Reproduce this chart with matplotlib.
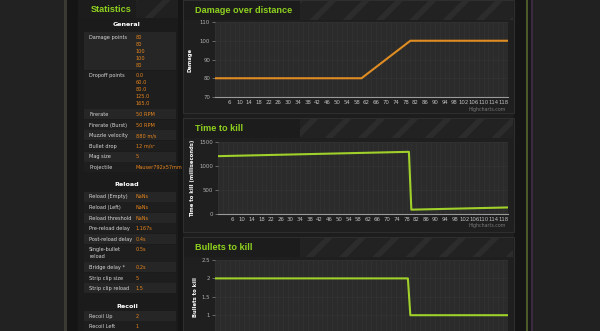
import matplotlib
matplotlib.use('Agg')
import matplotlib.pyplot as plt
from matplotlib.patches import Rectangle

# ---------------- data ----------------
distance_ticks = list(range(6, 119, 4))
damage_x = [0, 60, 80, 120]
damage_y = [80, 80, 100, 100]
ttk_x = [0, 79, 80, 120]
ttk_y = [1200, 1290, 90, 136]
btk_x = [0, 79, 80, 120]
btk_y = [2, 2, 1, 1]

general_labels = ["Damage points", "Dropoff points", "Firerate", "Firerate (Burst)",
                  "Muzzle velocity", "Bullet drop", "Mag size", "Projectile"]
general_values = [["80", "80", "100", "100", "80"],
                  ["0.0", "60.0", "80.0", "125.0", "165.0"],
                  ["50 RPM"], ["50 RPM"], ["880 m/s"], ["12 m/s²"], ["5"],
                  ["Mauser792x57mm"]]
reload_labels = ["Reload (Empty)", "Reload (Left)", "Reload threshold", "Pre-reload delay",
                 "Post-reload delay", "Single-bullet\nreload", "Bridge delay *",
                 "Strip clip size", "Strip clip reload"]
reload_values = [["NaNs"], ["NaNs"], ["NaNs"], ["1.167s"], ["0.4s"], ["0.5s"], ["0.2s"],
                 ["5"], ["1.5"]]
recoil_labels = ["Recoil Up", "Recoil Left"]
recoil_values = [["2"], ["1"]]

# ---------------- styling ----------------
W, H = 600, 331
GREEN_T = '#8fd11f'
ORANGE = '#e8861c'
LINE_OR = '#df8d22'
LINE_GR = '#a0d02a'
TITLE_FONT = ['Liberation Sans', 'DejaVu Sans']
plt.rcParams['hatch.linewidth'] = 4.0

fig = plt.figure(figsize=(6, 3.31), dpi=100)
fig.patch.set_facecolor('#1d1d1d')


def rect(x0, y0, x1, y1, z=-5, **kw):
    fig.add_artist(Rectangle((x0 / W, 1 - y1 / H), (x1 - x0) / W, (y1 - y0) / H,
                             transform=fig.transFigure, zorder=z, **kw))


def txt(x, y, s, **kw):
    kw.setdefault('va', 'center')
    fig.text(x / W, 1 - y / H, s, **kw)


# page frame
rect(0, 0, 64, H, facecolor='#222222', lw=0, z=-9)
rect(64, 0, 67, H, facecolor='#3a3a33', lw=0, z=-8)
rect(67, 0, 78, H, facecolor='#151515', lw=0, z=-8)
rect(514, 0, 526, H, facecolor='#151515', lw=0, z=-8)
rect(526, 0, 528, H, facecolor='#4b5a28', lw=0, z=-8)
rect(528, 0, 531, H, facecolor='#161616', lw=0, z=-8)
rect(531, 0, 533, H, facecolor='#3a2c3e', lw=0, z=-8)
rect(533, 0, W, H, facecolor='#212121', lw=0, z=-9)
rect(178, 0, 183, H, facecolor='#151515', lw=0, z=-8)

# statistics panel
rect(78, 0, 178, H, facecolor='#1b1b1b', lw=0, z=-7)
rect(78, 0, 178, 18, facecolor='#202020', edgecolor='#2a2a2a', hatch='/', lw=0, z=-6)
rect(78, 0, 136, 18, facecolor='#1c1c1c', lw=0, z=-5)
txt(91, 9, "Statistics", color=GREEN_T, fontsize=6.6, fontweight='bold', ha='left',
    family=TITLE_FONT)

LINE = 7.0
PAD = 3.6
COLX_L, COLX_V = 89, 136


def section(title, y_text, labels, values, y_start):
    txt(127, y_text, title, color='white', fontsize=4.6, fontweight='bold', ha='center')
    y = y_start
    for i, (lab, vals) in enumerate(zip(labels, values)):
        n = max(len(vals), lab.count('\n') + 1)
        h = n * LINE + PAD
        col = '#262626' if i % 2 == 0 else '#1e1e1e'
        rect(84, y, 176, y + h - 0.6, facecolor=col, lw=0, z=-4)
        for j, ln in enumerate(lab.split('\n')):
            txt(COLX_L, y + PAD / 2 + LINE / 2 + j * LINE, ln, color='#d8d8d8',
                fontsize=3.6, ha='left')
        for j, v in enumerate(vals):
            txt(COLX_V, y + PAD / 2 + LINE / 2 + j * LINE, v, color=ORANGE,
                fontsize=3.6, ha='left')
        y += h
    return y


y_end = section("General", 25, general_labels, general_values, 32)
y_end = section("Reload", y_end + 12, reload_labels, reload_values, y_end + 18.8)
y_end = section("Recoil", y_end + 12, recoil_labels, recoil_values, y_end + 16.8)

# chart panels
panels = [(0, 113, "Damage over distance"), (118, 232, "Time to kill"),
          (237, 340, "Bullets to kill")]
for (y0, y1, title) in panels:
    rect(183, y0, 514, y1, facecolor='#1f1f1f', edgecolor='#2e2e2e', lw=0.8, z=-7)
    rect(184, y0 + 1, 513, y0 + 20, facecolor='#222222', edgecolor='#2c2c2c',
         hatch='/', lw=0, z=-6)
    rect(184, y0 + 1, 300, y0 + 20, facecolor='#1c1c1c', lw=0, z=-5)
    txt(195, y0 + 10.5, title, color=GREEN_T, fontsize=6.6, fontweight='bold', ha='left',
        family=TITLE_FONT)


def make_axes(left, right, top, bottom):
    ax = fig.add_axes([left / W, 1 - bottom / H, (right - left) / W, (bottom - top) / H])
    ax.set_facecolor('#2b2b2b')
    for s in ['top', 'right', 'left']:
        ax.spines[s].set_visible(False)
    ax.spines['bottom'].set_color('#9a9a9a')
    ax.spines['bottom'].set_linewidth(0.8)
    ax.set_xlim(0, 120)
    ax.set_xticks(distance_ticks)
    ax.set_xticklabels([str(t) for t in distance_ticks])
    ax.set_xticks(range(0, 121, 2), minor=True)
    ax.tick_params(axis='x', which='both', length=0, labelsize=3.9, colors='#c0c0c0', pad=2.5)
    ax.tick_params(axis='y', length=2, width=0.5, color='#888888', labelsize=3.9,
                   labelcolor='#b0b0b0', pad=1.5)
    ax.grid(True, which='both', axis='x', color='#333333', lw=0.5)
    ax.grid(True, which='major', axis='y', color='#333333', lw=0.5)
    ax.set_axisbelow(True)
    return ax


ax1 = make_axes(215, 508, 22, 97)
ax1.plot(damage_x, damage_y, color=LINE_OR, lw=1.5)
ax1.set_ylim(70, 110)
ax1.set_yticks([70, 80, 90, 100, 110])
ax1.set_ylabel("Damage", color='white', fontsize=3.8, fontweight='bold', labelpad=5)

ax2 = make_axes(218, 508, 141.7, 214)
ax2.plot(ttk_x, ttk_y, color=LINE_GR, lw=1.5)
ax2.set_ylim(0, 1500)
ax2.set_yticks([0, 500, 1000, 1500])
ax2.set_ylabel("Time to kill (milliseconds)", color='white', fontsize=3.8,
               fontweight='bold', labelpad=3)

ax3 = make_axes(215, 508, 260, 352)
ax3.plot(btk_x, btk_y, color=LINE_GR, lw=1.5)
ax3.set_ylim(0, 2.5)
ax3.set_yticks([1, 1.5, 2, 2.5])
ax3.set_yticklabels(["1", "1.5", "2", "2.5"])
ax3.tick_params(axis='x', which='both', labelbottom=False)
ax3.set_ylabel("Bullets to kill", color='white', fontsize=3.8, fontweight='bold')
ax3.yaxis.set_label_coords(-0.058, 0.6)

for yy in (109, 225):
    txt(506, yy, "Highcharts.com", color='#7a7a7a', fontsize=3.4, ha='right')

fig.savefig('out.png', dpi=100, facecolor=fig.get_facecolor())
